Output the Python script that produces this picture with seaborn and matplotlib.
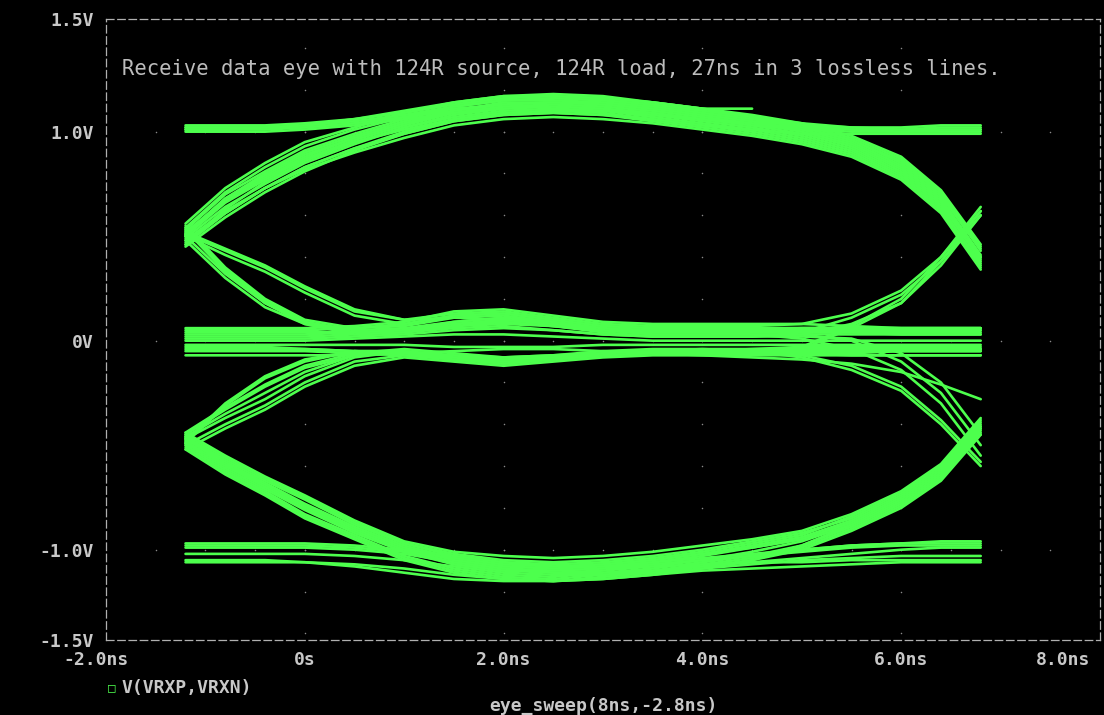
import numpy as np
import pandas as pd
import matplotlib
matplotlib.use("Agg")
import matplotlib.pyplot as plt
import matplotlib.transforms as mtransforms
import seaborn as sns

# Sample instants (ns) shared by every sweep trace
t_ns = [-1.2, -0.8, -0.4, 0.0, 0.5, 1.0, 1.5, 2.0, 2.5, 3.0, 3.5, 4.0, 4.5, 5.0, 5.5, 6.0, 6.4, 6.8]
nan = float("nan")

# Differential receive voltage V(VRXP,VRXN) per sweep, grouped by bit pattern
upper_arcs = [
    [0.50, 0.66, 0.77, 0.87, 0.96, 1.03, 1.09, 1.12, 1.13, 1.12, 1.10, 1.07, 1.04, 1.00, 0.94, 0.83, 0.67, 0.40],
    [0.53, 0.70, 0.81, 0.91, 0.99, 1.06, 1.12, 1.15, 1.15, 1.14, 1.12, 1.09, 1.06, 1.02, 0.96, 0.86, 0.70, 0.43],
    [0.47, 0.61, 0.73, 0.83, 0.92, 1.00, 1.06, 1.09, 1.10, 1.09, 1.06, 1.03, 1.00, 0.96, 0.90, 0.79, 0.63, 0.37],
    [0.56, 0.73, 0.85, 0.95, 1.02, 1.09, 1.14, 1.17, 1.17, 1.16, 1.14, 1.11, 1.08, 1.04, 0.98, 0.88, 0.72, 0.46],
    [0.45, 0.59, 0.71, 0.81, 0.91, 0.99, 1.05, 1.08, 1.09, 1.08, 1.05, 1.02, 0.99, 0.95, 0.89, 0.78, 0.62, 0.35],
    [0.51, 0.68, 0.79, 0.89, 0.97, 1.04, 1.10, 1.14, 1.14, 1.13, 1.11, 1.08, 1.05, 1.01, 0.95, 0.84, 0.68, 0.41],
    [0.49, 0.64, 0.75, 0.85, 0.94, 1.02, 1.08, 1.11, 1.12, 1.11, 1.08, 1.05, 1.02, 0.98, 0.92, 0.81, 0.65, 0.39],
    [0.48, 0.62, 0.73, 0.82, 0.90, 0.97, 1.03, 1.06, 1.07, 1.06, 1.04, 1.01, 0.98, 0.94, 0.88, 0.77, 0.61, 0.34],
    [0.54, 0.71, 0.83, 0.93, 1.01, 1.07, 1.12, 1.15, 1.16, 1.15, 1.13, 1.10, 1.07, 1.03, 0.97, 0.87, 0.71, 0.45],
    [0.46, 0.63, 0.76, 0.86, 0.95, 1.01, 1.06, 1.09, 1.10, 1.10, 1.08, 1.06, 1.03, 0.99, 0.93, 0.82, 0.66, 0.38],
    [0.52, 0.67, 0.78, 0.87, 0.95, 1.02, 1.07, 1.10, 1.11, 1.10, 1.07, 1.04, 1.01, 0.97, 0.91, 0.80, 0.64, 0.36],
]
upper_flats = [
    [1.02, 1.02, 1.02, 1.03, 1.05, 1.08, 1.12, 1.15, 1.16, 1.15, 1.13, 1.10, 1.07, 1.04, 1.02, 1.01, 1.01, 1.01],
    [1.00, 1.00, 1.00, 1.01, 1.03, 1.06, 1.09, 1.11, 1.12, 1.11, 1.09, 1.06, 1.03, 1.01, 1.00, 1.00, 1.00, 1.00],
    [1.03, 1.03, 1.03, 1.04, 1.06, 1.09, 1.13, 1.16, 1.17, 1.16, 1.14, 1.11, 1.07, 1.02, 0.96, 0.85, 0.69, 0.44],
    [1.01, 1.01, 1.02, 1.03, 1.06, 1.10, 1.14, 1.17, 1.18, 1.17, 1.14, 1.11, 1.11, nan, nan, nan, nan, nan],
    [0.50, 0.67, 0.78, 0.88, 0.97, 1.04, 1.09, 1.12, 1.12, 1.11, 1.09, 1.06, 1.04, 1.02, 1.01, 1.01, 1.02, 1.02],
    [0.46, 0.61, 0.73, 0.83, 0.92, 0.99, 1.05, 1.08, 1.09, 1.08, 1.06, 1.03, 1.01, 0.99, 0.99, 0.99, 0.99, 0.99],
    [1.02, 1.02, 1.02, 1.02, 1.04, 1.07, 1.11, 1.13, 1.14, 1.13, 1.11, 1.08, 1.05, 1.00, 0.94, 0.83, 0.67, 0.40],
    [1.01, 1.01, 1.01, 1.02, 1.04, 1.07, 1.10, 1.13, 1.14, 1.14, 1.12, 1.09, 1.06, 1.03, 1.01, 1.00, 1.01, 1.01],
    [0.51, 0.68, 0.80, 0.90, 0.98, 1.05, 1.10, 1.13, 1.14, 1.13, 1.11, 1.08, 1.05, 1.03, 1.02, 1.02, 1.03, 1.03],
]
mid_from_high = [
    [0.52, 0.44, 0.36, 0.26, 0.15, 0.10, 0.11, 0.10, 0.08, 0.06, 0.05, 0.05, 0.05, 0.05, 0.05, 0.05, 0.05, 0.05],
    [0.51, 0.43, 0.35, 0.25, 0.14, 0.10, 0.13, 0.14, 0.11, 0.08, 0.07, 0.07, 0.07, 0.08, 0.13, 0.24, 0.40, 0.62],
    [0.55, 0.35, 0.20, 0.10, 0.06, 0.07, 0.11, 0.12, 0.09, 0.06, 0.05, 0.05, 0.05, 0.06, 0.06, 0.06, 0.06, 0.06],
    [0.48, 0.30, 0.16, 0.08, 0.04, 0.05, 0.08, 0.10, 0.08, 0.05, 0.03, 0.03, 0.03, 0.03, 0.00, -0.10, -0.25, -0.50],
    [0.53, 0.33, 0.18, 0.08, 0.03, 0.04, 0.07, 0.09, 0.07, 0.04, 0.02, 0.02, 0.02, 0.04, 0.11, 0.22, 0.38, 0.60],
    [0.50, 0.32, 0.18, 0.09, 0.05, 0.06, 0.09, 0.11, 0.09, 0.06, 0.04, 0.04, 0.04, 0.04, 0.04, 0.04, 0.04, 0.04],
    [0.50, 0.41, 0.33, 0.23, 0.12, 0.08, 0.12, 0.13, 0.10, 0.07, 0.06, 0.06, 0.06, 0.06, 0.06, 0.06, 0.06, 0.06],
    [0.54, 0.34, 0.19, 0.09, 0.04, 0.05, 0.09, 0.11, 0.08, 0.05, 0.03, 0.03, 0.03, 0.03, 0.03, 0.03, 0.03, 0.03],
]
mid_from_low = [
    [-0.47, -0.37, -0.28, -0.17, -0.08, -0.05, -0.08, -0.10, -0.09, -0.07, -0.06, -0.06, -0.06, -0.06, -0.07, -0.07, -0.07, -0.07],
    [-0.45, -0.33, -0.22, -0.13, -0.07, -0.06, -0.09, -0.11, -0.09, -0.06, -0.05, -0.05, -0.05, -0.07, -0.12, -0.22, -0.38, -0.58],
    [-0.50, -0.40, -0.31, -0.20, -0.10, -0.07, -0.09, -0.11, -0.09, -0.07, -0.06, -0.06, -0.06, -0.04, 0.06, 0.18, 0.38, 0.62],
    [-0.48, -0.30, -0.17, -0.09, -0.05, -0.05, -0.08, -0.09, -0.08, -0.06, -0.05, -0.04, -0.04, -0.04, -0.04, -0.04, -0.04, -0.04],
    [-0.44, -0.32, -0.21, -0.12, -0.06, -0.04, -0.06, -0.08, -0.07, -0.05, -0.04, -0.04, -0.05, -0.08, -0.14, -0.24, -0.40, -0.60],
    [-0.52, -0.42, -0.33, -0.22, -0.12, -0.08, -0.10, -0.12, -0.10, -0.08, -0.07, -0.07, -0.07, -0.07, -0.07, -0.07, -0.07, -0.07],
    [-0.46, -0.35, -0.25, -0.15, -0.07, -0.05, -0.07, -0.09, -0.08, -0.06, -0.05, -0.05, -0.05, -0.05, -0.05, -0.05, -0.05, -0.05],
    [-0.49, -0.31, -0.18, -0.10, -0.05, -0.05, -0.08, -0.09, -0.08, -0.06, -0.05, -0.05, -0.05, -0.03, 0.07, 0.20, 0.40, 0.64],
]
mid_flats = [
    [0.06, 0.06, 0.06, 0.06, 0.07, 0.09, 0.14, 0.15, 0.12, 0.09, 0.08, 0.08, 0.08, 0.08, 0.07, 0.06, 0.06, 0.06],
    [0.03, 0.03, 0.03, 0.03, 0.04, 0.05, 0.08, 0.09, 0.07, 0.05, 0.04, 0.04, 0.04, 0.04, 0.04, 0.03, 0.03, 0.03],
    [-0.02, -0.02, -0.02, -0.02, -0.02, -0.02, -0.03, -0.03, -0.03, -0.02, -0.02, -0.02, -0.02, -0.02, -0.02, -0.02, -0.02, -0.02],
    [-0.05, -0.05, -0.05, -0.05, -0.06, -0.07, -0.09, -0.10, -0.09, -0.07, -0.06, -0.06, -0.06, -0.06, -0.06, -0.05, -0.05, -0.05],
    [0.01, 0.01, 0.01, 0.01, 0.02, 0.03, 0.05, 0.06, 0.05, 0.03, 0.02, 0.02, 0.02, 0.03, 0.08, 0.18, 0.36, 0.60],
    [-0.07, -0.07, -0.07, -0.07, -0.07, -0.06, -0.05, -0.04, -0.04, -0.05, -0.06, -0.07, -0.08, -0.09, -0.11, -0.15, -0.21, -0.28],
    [0.04, 0.04, 0.04, 0.04, 0.04, 0.05, 0.07, 0.08, 0.07, 0.05, 0.04, 0.04, 0.03, 0.01, -0.04, -0.14, -0.30, -0.55],
    [-0.03, -0.03, -0.03, -0.04, -0.05, -0.06, -0.07, -0.08, -0.07, -0.06, -0.05, -0.05, -0.04, -0.03, -0.03, -0.03, -0.03, -0.03],
    [0.05, 0.05, 0.05, 0.05, 0.06, 0.08, 0.12, 0.13, 0.10, 0.07, 0.06, 0.06, 0.06, 0.06, 0.06, 0.05, 0.05, 0.05],
    [-0.04, -0.04, -0.04, -0.04, -0.05, -0.06, -0.08, -0.09, -0.08, -0.06, -0.05, -0.05, -0.05, -0.05, -0.04, -0.04, -0.04, -0.04],
    [0.00, 0.00, 0.00, 0.00, 0.01, 0.02, 0.03, 0.03, 0.02, 0.01, 0.00, 0.00, 0.00, 0.00, 0.00, 0.00, 0.00, 0.00],
    [0.02, 0.02, 0.02, 0.02, 0.03, 0.04, 0.06, 0.07, 0.05, 0.03, 0.02, 0.02, 0.02, 0.02, 0.01, -0.06, -0.20, -0.45],
]
lower_arcs = [
    [-0.47, -0.58, -0.68, -0.78, -0.89, -0.98, -1.04, -1.07, -1.08, -1.07, -1.05, -1.02, -0.98, -0.94, -0.86, -0.75, -0.62, -0.40],
    [-0.44, -0.55, -0.65, -0.74, -0.86, -0.96, -1.01, -1.03, -1.04, -1.03, -1.01, -0.98, -0.95, -0.91, -0.83, -0.72, -0.59, -0.37],
    [-0.50, -0.62, -0.72, -0.83, -0.93, -1.03, -1.09, -1.12, -1.13, -1.11, -1.09, -1.06, -1.03, -0.98, -0.89, -0.78, -0.65, -0.43],
    [-0.48, -0.60, -0.70, -0.80, -0.91, -1.00, -1.07, -1.10, -1.11, -1.10, -1.08, -1.05, -1.01, -0.96, -0.88, -0.77, -0.64, -0.42],
    [-0.46, -0.57, -0.67, -0.76, -0.88, -0.97, -1.03, -1.06, -1.07, -1.06, -1.04, -1.01, -0.97, -0.93, -0.84, -0.73, -0.60, -0.38],
    [-0.52, -0.64, -0.74, -0.85, -0.95, -1.05, -1.11, -1.14, -1.15, -1.13, -1.11, -1.08, -1.05, -1.00, -0.91, -0.80, -0.67, -0.45],
    [-0.45, -0.56, -0.66, -0.75, -0.87, -0.97, -1.02, -1.05, -1.06, -1.05, -1.03, -1.00, -0.96, -0.92, -0.85, -0.74, -0.61, -0.39],
    [-0.51, -0.63, -0.73, -0.84, -0.94, -1.04, -1.10, -1.13, -1.14, -1.12, -1.10, -1.07, -1.04, -0.99, -0.90, -0.79, -0.66, -0.44],
    [-0.49, -0.59, -0.69, -0.79, -0.90, -0.99, -1.05, -1.08, -1.09, -1.08, -1.06, -1.03, -0.99, -0.95, -0.87, -0.76, -0.63, -0.41],
]
lower_flats = [
    [-0.97, -0.97, -0.97, -0.97, -0.98, -1.00, -1.03, -1.06, -1.08, -1.08, -1.07, -1.05, -1.03, -1.00, -0.98, -0.97, -0.96, -0.96],
    [-0.99, -0.99, -0.99, -0.99, -1.00, -1.02, -1.06, -1.09, -1.11, -1.11, -1.10, -1.08, -1.06, -1.04, -1.02, -1.00, -0.99, -0.99],
    [-1.06, -1.06, -1.06, -1.06, -1.07, -1.09, -1.12, -1.14, -1.15, -1.14, -1.12, -1.10, -1.09, -1.08, -1.07, -1.06, -1.06, -1.06],
    [-1.05, -1.05, -1.05, -1.06, -1.08, -1.11, -1.14, -1.15, -1.15, -1.14, -1.12, -1.09, -1.05, -0.98, -0.88, -0.77, -0.64, -0.42],
    [-0.46, -0.58, -0.69, -0.79, -0.90, -0.99, -1.05, -1.08, -1.09, -1.08, -1.06, -1.04, -1.02, -1.00, -0.98, -0.97, -0.97, -0.97],
    [-0.49, -0.61, -0.71, -0.81, -0.92, -1.01, -1.07, -1.10, -1.10, -1.09, -1.08, -1.07, -1.06, -1.06, -1.05, -1.05, -1.05, -1.05],
    [-0.98, -0.98, -0.98, -0.98, -0.99, -1.01, -1.04, -1.07, -1.08, -1.07, -1.05, -1.02, -0.99, -0.95, -0.87, -0.76, -0.63, -0.41],
    [-1.02, -1.02, -1.02, -1.02, -1.03, -1.05, -1.08, -1.11, -1.12, -1.12, -1.11, -1.09, -1.07, -1.05, -1.04, -1.03, -1.03, -1.03],
    [-0.47, -0.59, -0.70, -0.80, -0.91, -1.00, -1.06, -1.09, -1.10, -1.09, -1.07, -1.05, -1.03, -1.01, -0.99, -0.98, -0.98, -0.98],
]

x_ticks = [-2, 0, 2, 4, 6, 8]
x_tick_labels = ["-2.0ns", "0s", "2.0ns", "4.0ns", "6.0ns", "8.0ns"]
y_ticks = [-1.432, -1.0, 0.0, 1.0, 1.539]
y_tick_labels = ["-1.5V", "-1.0V", "0V", "1.0V", "1.5V"]

title_text = "Receive data eye with 124R source, 124R load, 27ns in 3 lossless lines."
trace_name = "V(VRXP,VRXN)"
x_title = "eye_sweep(8ns,-2.8ns)"

GREEN = "#4dff4d"
FRAME = "#b0b0b0"
TEXT = "#c8c8c8"
MONO = ["DejaVu Sans Mono"]

# Long table: one row per sample, one unit id per sweep
rows = []
trace_id = 0
for group in (upper_arcs, upper_flats, mid_from_high, mid_from_low, mid_flats, lower_arcs, lower_flats):
    for tr in group:
        for t, v in zip(t_ns, tr):
            if not np.isnan(v):
                rows.append((trace_id, t, v))
        trace_id += 1
df = pd.DataFrame(rows, columns=["trace", "t", "v"])

sns.set_theme(style="dark")
plt.rcParams["font.family"] = MONO

fig = plt.figure(figsize=(11.04, 7.15), dpi=100, facecolor="black")
ax = fig.add_axes([106 / 1104, 1 - 640 / 715, 994 / 1104, 621 / 715])
ax.set_facecolor("black")

sns.lineplot(data=df, x="t", y="v", units="trace", estimator=None, sort=False,
             color=GREEN, linewidth=1.9, legend=False, ax=ax, zorder=3)

ax.set_xlim(-2, 8)
ax.set_ylim(y_ticks[0], y_ticks[-1])
ax.grid(False)

# Dotted grid: columns at the major time ticks, rows at the major voltage ticks
col_x, col_y = [], []
for xv in [0, 2, 4, 6]:
    for yv in np.arange(-1.4, 1.41, 0.2):
        col_x.append(xv)
        col_y.append(yv)
for yv in [-1.0, 0.0, 1.0]:
    for xv in np.arange(-1.5, 7.6, 0.5):
        col_x.append(xv)
        col_y.append(yv)
ax.scatter(col_x, col_y, s=1.2, color="#8a8a8a", linewidths=0, zorder=1)

# Dashed frame
for side in ["left", "right", "top", "bottom"]:
    sp = ax.spines[side]
    sp.set_visible(True)
    sp.set_color(FRAME)
    sp.set_linewidth(0.9)
    sp.set_linestyle((0, (6, 3)))

ax.set_xticks(x_ticks)
ax.set_xticklabels(x_tick_labels)
ax.set_yticks(y_ticks)
ax.set_yticklabels(y_tick_labels)
ax.tick_params(axis="x", direction="in", length=5, width=0.9, color=FRAME, pad=8,
               labelcolor=TEXT, labelsize=13)
ax.tick_params(axis="y", direction="out", length=5, width=0.9, color=FRAME, pad=4,
               labelcolor=TEXT, labelsize=13)
for lab in ax.get_xticklabels() + ax.get_yticklabels():
    lab.set_fontweight("bold")
# The last time label sits flush against the right edge
last = ax.get_xticklabels()[-1]
last.set_horizontalalignment("right")
last.set_transform(last.get_transform() + mtransforms.ScaledTranslation(-10 / 100, 0, fig.dpi_scale_trans))
first = ax.get_xticklabels()[0]
first.set_transform(first.get_transform() + mtransforms.ScaledTranslation(-10 / 100, 0, fig.dpi_scale_trans))
ax.set_xlabel("")
ax.set_ylabel("")

fig.text(122 / 1104, 1 - 69 / 715, title_text, color="#bcbcbc", fontsize=14.8,
         family=MONO, va="center", ha="left")

# Trace legend and sweep axis title
fig.text(112 / 1104, 1 - 688 / 715, "\u25a1", color=GREEN, fontsize=9, family=MONO,
         va="center", ha="center", fontweight="bold")
fig.text(122 / 1104, 1 - 688 / 715, trace_name, color=TEXT, fontsize=13,
         family=MONO, va="center", ha="left", fontweight="bold")
fig.text(603 / 1104, 1 - 706 / 715, x_title, color=TEXT, fontsize=13,
         family=MONO, va="center", ha="center", fontweight="bold")

fig.savefig("out.png", dpi=100, facecolor="black")
